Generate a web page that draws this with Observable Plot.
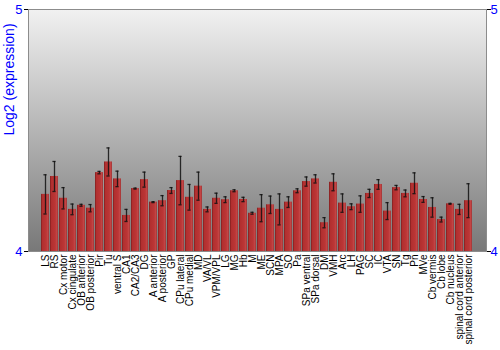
<!DOCTYPE html>
<html>
<head>
<meta charset="utf-8">
<script src="https://cdn.jsdelivr.net/npm/d3@7"></script>
<script src="https://cdn.jsdelivr.net/npm/@observablehq/plot@0.6"></script>
<style>
  body { margin: 0; background: #fff; }
  #chart { width: 500px; height: 350px; }
</style>
</head>
<body>
<div id="chart"></div>
<script>
const categories = ["LS","RS","Cx motor","Cx cingulate","OB anterior","OB posterior","Pir","Tu","ventral S","CA1","CA2/CA3","DG","A anterior","A posterior","GP","CPu lateral","CPu medial","MD","VA/VL","VPM/VPL","LG","MG","Hb","M","ME","SCN","MPA","SO","Pa","SPa ventral","SPa dorsal","DM","VMH","Arc","LH","PAG","SC","IC","VTA","SN","Tg","Pn","MVe","Cb vermis","Cb lobe","Cb nucleus","spinal cord anterior","spinal cord posterior"];
const values = [4.236,4.310,4.220,4.174,4.191,4.179,4.326,4.370,4.300,4.149,4.260,4.297,4.204,4.210,4.252,4.293,4.224,4.270,4.174,4.220,4.214,4.251,4.215,4.158,4.179,4.193,4.174,4.204,4.251,4.289,4.300,4.119,4.286,4.200,4.185,4.196,4.240,4.277,4.167,4.264,4.240,4.282,4.215,4.182,4.132,4.197,4.174,4.210];
const errors = [0.081,0.062,0.044,0.022,0.004,0.015,0.005,0.058,0.032,0.025,0.002,0.031,0.002,0.021,0.012,0.100,0.053,0.058,0.010,0.021,0.012,0.004,0.009,0.004,0.056,0.036,0.064,0.022,0.008,0.019,0.017,0.021,0.035,0.038,0.012,0.034,0.017,0.020,0.035,0.009,0.014,0.043,0.012,0.040,0.010,0.002,0.021,0.070];
const yTicks = [4, 5];
const yLabel = "Log2 (expression)";
const baseline = yTicks[0];

const data = categories.map((c, i) => ({region: c, value: values[i], err: errors[i]}));

const chart = Plot.plot({
  width: 500,
  height: 350,
  marginLeft: 28,
  marginRight: 14,
  marginTop: 9,
  marginBottom: 99,
  style: {fontFamily: "'Liberation Sans', Arial, sans-serif", fontSize: "10px", background: "#fff"},
  x: {domain: categories, paddingInner: 0.1, paddingOuter: 0.04, label: null},
  y: {domain: [yTicks[0], yTicks[yTicks.length - 1]], label: null},
  marks: [
    Plot.frame({fill: "url(#bgGrad)", stroke: "#8c8c8c"}),
    Plot.barY(data, {x: "region", y1: d => baseline, y2: "value", fill: "url(#barGrad)"}),
    Plot.ruleX(data, {x: "region", y1: d => d.value - d.err, y2: d => d.value + d.err, stroke: "#111", strokeWidth: 1.3, strokeOpacity: 0.85}),
    Plot.tickY(data, {x: "region", y: d => d.value + d.err, insetLeft: 2.4, insetRight: 2.4, stroke: "#111", strokeWidth: 1.3, strokeOpacity: 0.85}),
    Plot.tickY(data, {x: "region", y: d => d.value - d.err, insetLeft: 2.4, insetRight: 2.4, stroke: "#111", strokeWidth: 1.3, strokeOpacity: 0.85}),
    Plot.axisX({tickRotate: -90, tickSize: 0, tickPadding: 3, label: null, fontSize: 10, fill: "#000"}),
    Plot.axisY({anchor: "left", ticks: yTicks, tickSize: 4, tickFormat: () => "", label: null, stroke: "#000"}),
    Plot.axisY({anchor: "left", ticks: yTicks, tickSize: 0, tickPadding: 6, tickFormat: d => String(d), label: null, color: "blue", fontSize: 13}),
    Plot.axisY({anchor: "right", ticks: yTicks, tickSize: 4, tickFormat: () => "", label: null, stroke: "#000"}),
    Plot.axisY({anchor: "right", ticks: yTicks, tickSize: 0, tickPadding: 4, tickFormat: d => String(d), label: null, color: "blue", fontSize: 13}),
    Plot.text([yLabel], {text: d => d, frameAnchor: "left", rotate: -90, dx: -19, dy: 5, fill: "blue", fontSize: 14})
  ]
});

const svg = d3.select(chart);
const defs = svg.insert("defs", ":first-child");
const bg = defs.append("linearGradient").attr("id", "bgGrad").attr("x1", 0).attr("y1", 0).attr("x2", 0).attr("y2", 1);
bg.append("stop").attr("offset", "0%").attr("stop-color", "#f1f1f1");
bg.append("stop").attr("offset", "100%").attr("stop-color", "#787878");
const bar = defs.append("linearGradient").attr("id", "barGrad").attr("x1", 0).attr("y1", 0).attr("x2", 1).attr("y2", 0);
[["0%", "#7c1e1e"], ["18%", "#b22f2f"], ["65%", "#bb3636"], ["88%", "#c64a4a"], ["100%", "#8e2a2a"]].forEach(([o, c]) => {
  bar.append("stop").attr("offset", o).attr("stop-color", c);
});

document.getElementById("chart").appendChild(chart);
</script>
</body>
</html>
